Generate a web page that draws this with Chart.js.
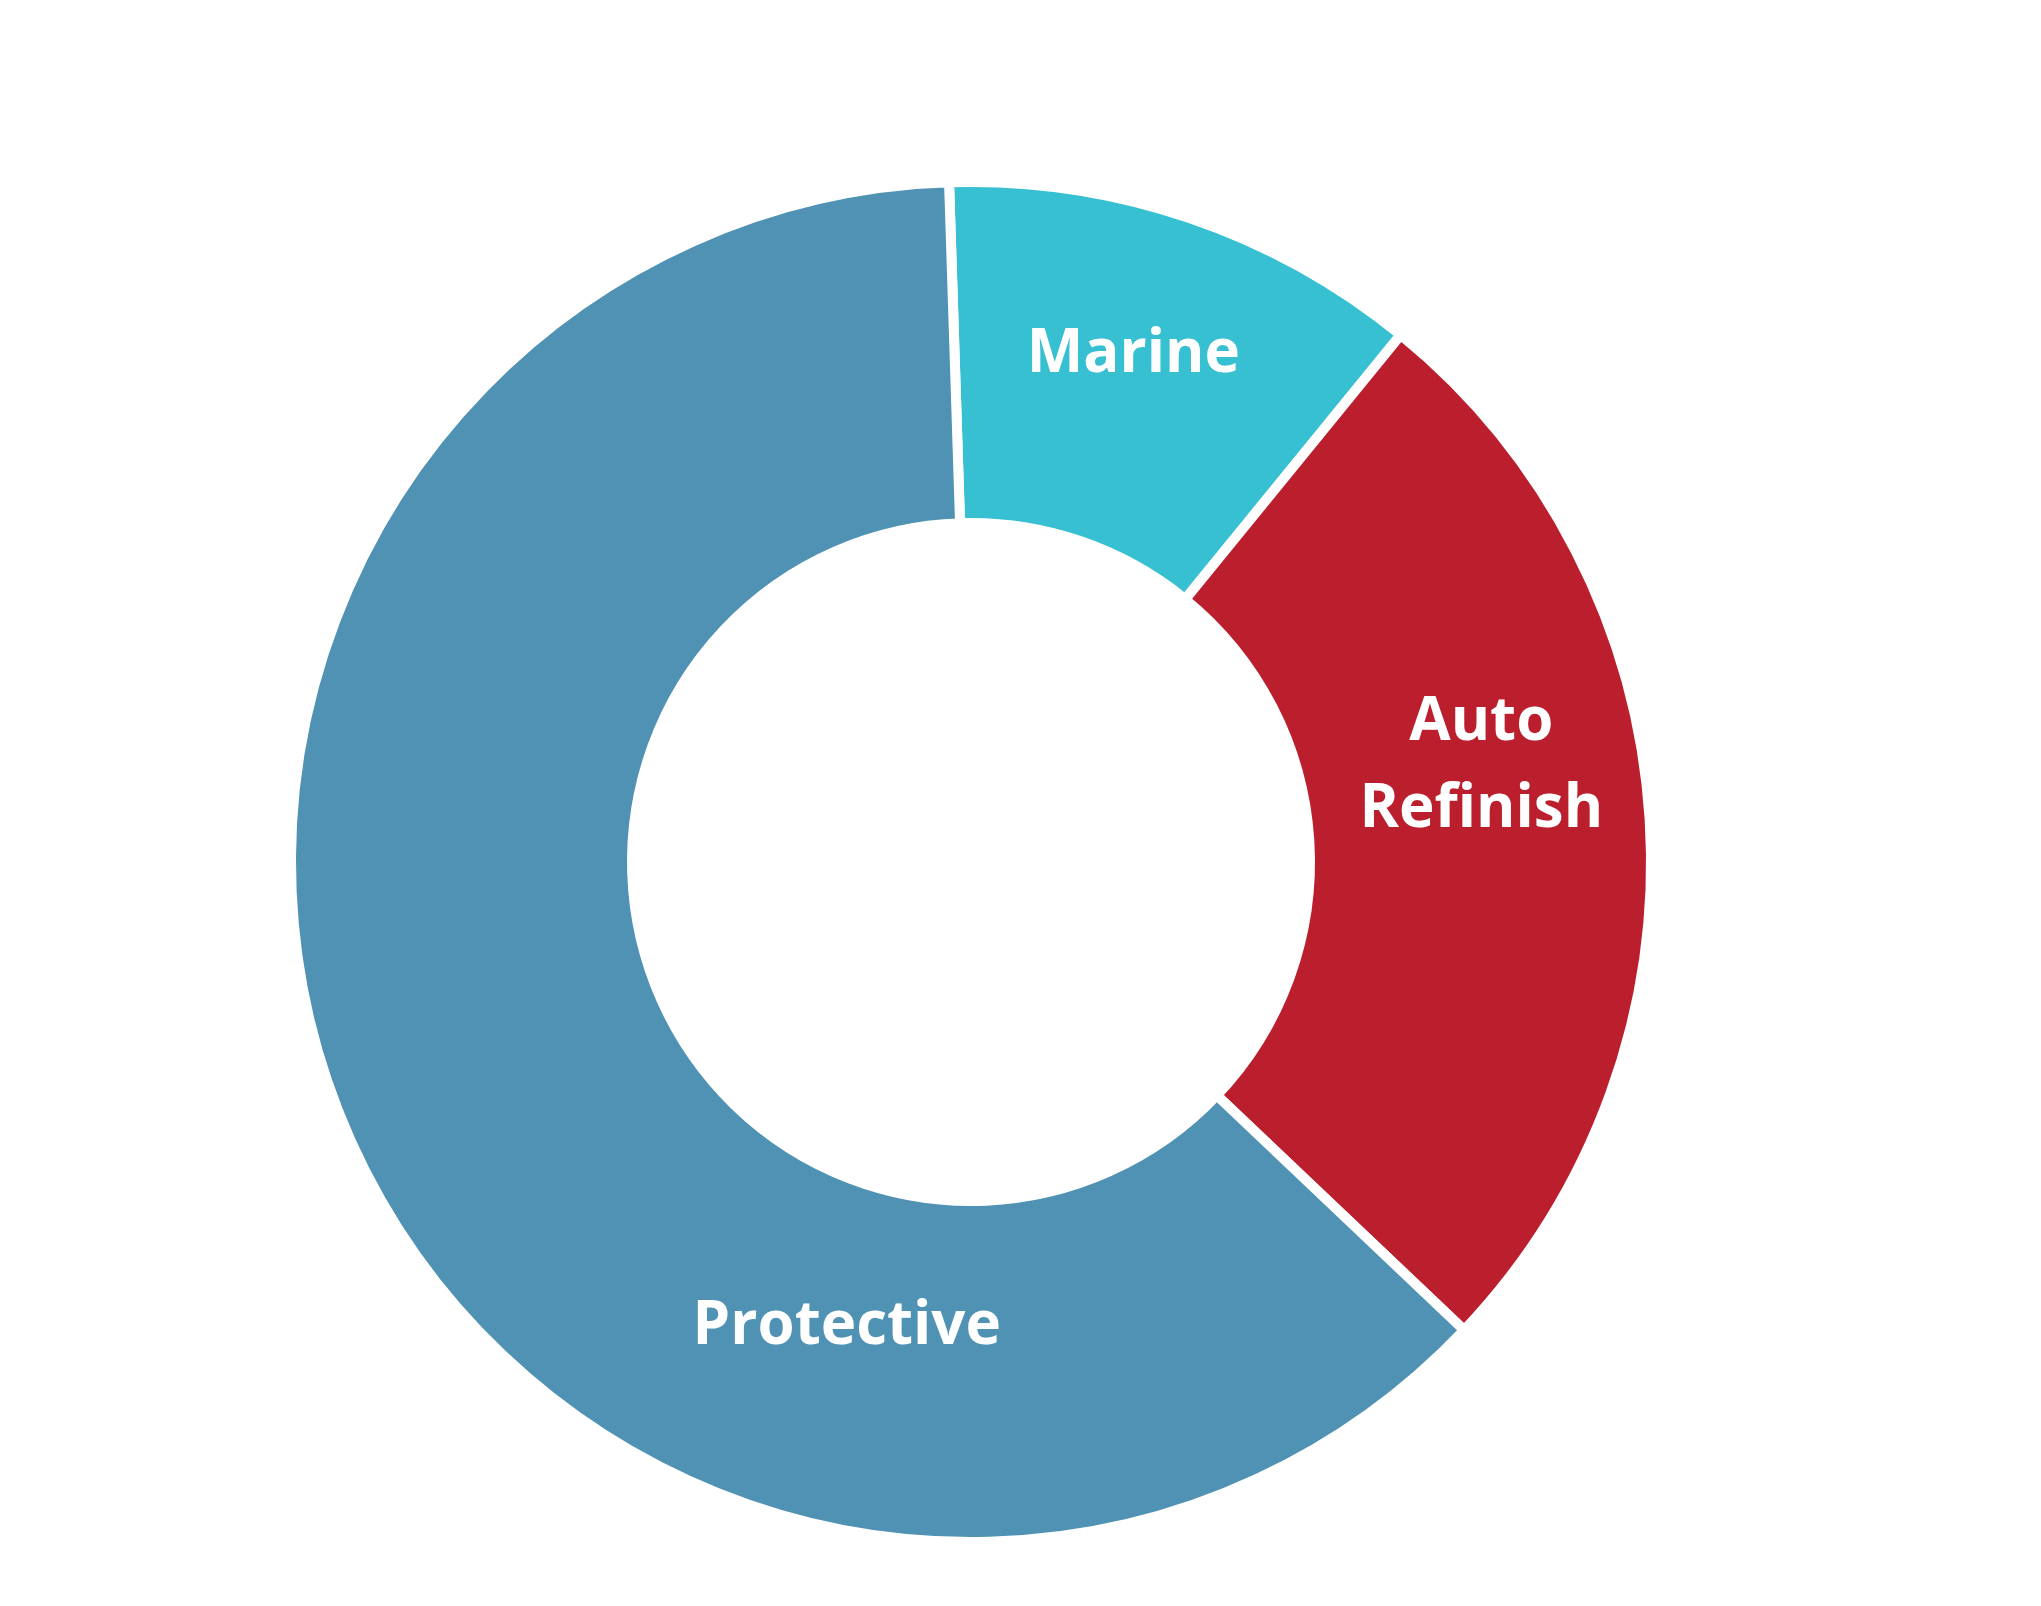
<!DOCTYPE html>
<html>
<head>
<meta charset="utf-8">
<title>Segments</title>
<script src="https://cdn.jsdelivr.net/npm/chart.js@4/dist/chart.umd.min.js"></script>
<style>
  html, body { margin: 0; padding: 0; background: #ffffff; }
  #wrap { width: 2041px; height: 1606px; }
</style>
</head>
<body>
<div id="wrap"><canvas id="chart" width="2041" height="1606"></canvas></div>
<script>
// data (share of total, %)
const segments = ['Marine', 'Auto Refinish', 'Protective'];
const shares = [11.4, 26.2, 62.4];
const colors = ['#36C0D2', '#BB1F2E', '#4F92B3'];

// label text lines + where to put them (angle from top, clockwise, deg / distance from centre, px)
const labelLines = [['Marine'], ['Auto', 'Refinish'], ['Protective']];
const labelAngle = [17.6, 78.9, 195.1];
const labelDist = [537, 520, 477];

const FONT_SIZE = 60;
const LINE_H = 87;

const sliceLabels = {
  id: 'sliceLabels',
  afterDatasetsDraw(chart) {
    const arcs = chart.getDatasetMeta(0).data;
    if (!arcs.length) return;
    const cx = arcs[0].x;
    const cy = arcs[0].y;
    const ctx = chart.ctx;
    const capH = FONT_SIZE * 0.714;
    ctx.save();
    ctx.fillStyle = '#ffffff';
    ctx.font = `bold ${FONT_SIZE}px "Open Sans"`;
    ctx.textAlign = 'center';
    ctx.textBaseline = 'alphabetic';
    labelLines.forEach((lines, i) => {
      const a = labelAngle[i] * Math.PI / 180;
      const x = cx + Math.sin(a) * labelDist[i];
      const y = cy - Math.cos(a) * labelDist[i];
      const top = y - (lines.length - 1) * LINE_H / 2;
      lines.forEach((t, j) => {
        ctx.fillText(t, x, top + j * LINE_H + capH / 2);
      });
    });
    ctx.restore();
  }
};

function draw() {
  new Chart(document.getElementById('chart'), {
    type: 'doughnut',
    data: {
      labels: segments,
      datasets: [{
        data: shares,
        backgroundColor: colors,
        borderColor: '#ffffff',
        borderWidth: 10,
        borderJoinStyle: 'miter',
        hoverOffset: 0
      }]
    },
    options: {
      responsive: false,
      devicePixelRatio: 1,
      animation: false,
      rotation: -1.85,
      radius: 680,
      cutout: '49.85%',
      layout: { padding: { left: 0, right: 99, top: 118, bottom: 0 } },
      plugins: {
        legend: { display: false },
        tooltip: { enabled: false }
      },
      events: []
    },
    plugins: [sliceLabels]
  });
}

document.fonts.load(`bold ${FONT_SIZE}px "Open Sans"`).then(draw, draw);
</script>
</body>
</html>
